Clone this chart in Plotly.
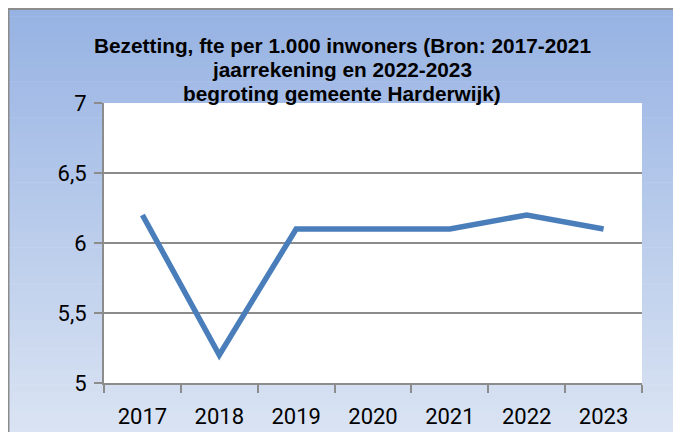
import plotly.graph_objects as go

years = ["2017", "2018", "2019", "2020", "2021", "2022", "2023"]
fte = [6.2, 5.2, 6.1, 6.1, 6.1, 6.2, 6.1]
title_lines = ["Bezetting, fte per 1.000 inwoners (Bron: 2017-2021",
               "jaarrekening en 2022-2023",
               "begroting gemeente Harderwijk)"]

# page is offset by the 8px body margin -> figure coordinates = reference - 8
W, H = 673, 424
L, R, T, B = 96, 634, 95, 375
pw, ph = R - L, B - T

def px(x):
    return (x - L) / pw

def py(y):
    return (B - y) / ph

top_c = (0x97, 0xB3, 0xE3)
bot_c = (0xDB, 0xE4, 0xF3)
shapes = []
n = 60
y0 = 1
for i in range(n):
    t = i / (n - 1)
    c = tuple(round(top_c[k] + (bot_c[k] - top_c[k]) * t) for k in range(3))
    ya = y0 + (H + 10 - y0) * i / n
    yb = y0 + (H + 10 - y0) * (i + 1) / n + 0.6
    shapes.append(dict(type="rect", xref="paper", yref="paper", layer="below",
                       x0=px(0), x1=px(W + 10), y0=py(ya), y1=py(yb),
                       line=dict(width=0), fillcolor="rgb(%d,%d,%d)" % c))
shapes.append(dict(type="rect", xref="paper", yref="paper", layer="below",
                   x0=0, x1=1, y0=0, y1=1, line=dict(width=0), fillcolor="white"))
shapes.append(dict(type="rect", xref="paper", yref="paper", layer="below",
                   x0=px(0.5), x1=px(W + 20), y0=py(1), y1=py(H + 20),
                   line=dict(color="#8c8c8c", width=2), fillcolor="rgba(0,0,0,0)"))

annotations = []
for line, yc in zip(title_lines, [37, 62, 86]):
    annotations.append(dict(text="<b>%s</b>" % line, xref="paper", yref="paper",
                            x=px(334), y=py(yc), xanchor="center", yanchor="middle",
                            showarrow=False,
                            font=dict(family="Liberation Sans, Arial", size=20.8, color="black")))

fig = go.Figure()
fig.add_trace(go.Scatter(x=years, y=fte, mode="lines",
                         line=dict(color="#4A7EBB", width=5.5)))

tick_font = dict(family="Roboto", size=22, color="black")
fig.update_layout(
    width=W, height=H,
    margin=dict(l=L, r=W - R, t=T, b=H - B, autoexpand=False),
    paper_bgcolor="white", plot_bgcolor="rgba(0,0,0,0)",
    separators=",.",
    showlegend=False,
    shapes=shapes,
    annotations=annotations,
    xaxis=dict(type="category", range=[-0.5, 6.5], tickson="boundaries",
               ticks="outside", ticklen=8, tickwidth=2, tickcolor="#8c8c8c",
               showline=True, linecolor="#8c8c8c", linewidth=2, showgrid=False,
               tickfont=tick_font, ticklabelstandoff=13, automargin=False,
               fixedrange=True),
    yaxis=dict(range=[5, 7], dtick=0.5, ticks="outside", ticklen=8, tickwidth=2,
               tickcolor="#8c8c8c", showline=True, linecolor="#8c8c8c", linewidth=2,
               showgrid=True, gridcolor="#8c8c8c", gridwidth=2, zeroline=False,
               tickfont=tick_font, ticklabelstandoff=3, automargin=False,
               fixedrange=True),
)

fig.write_html("out.html")
